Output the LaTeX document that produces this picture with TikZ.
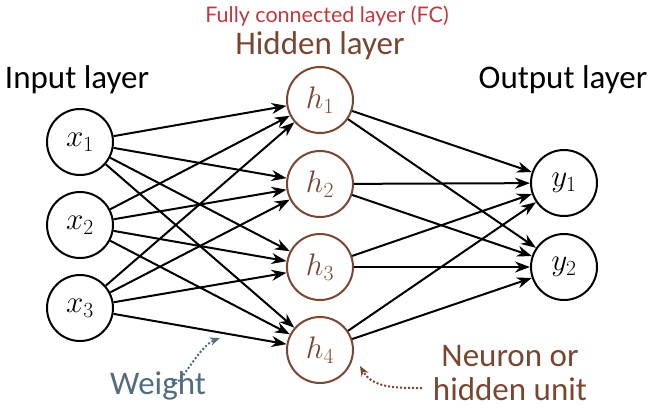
\documentclass[tikz,border=0pt]{standalone}
\usepackage{fontspec}
\setsansfont{Carlito}
\newfontfamily\fcfont{Lato}
\usetikzlibrary{arrows.meta}
\definecolor{brn}{HTML}{7A4632}
\definecolor{fcred}{HTML}{C0393F}
\definecolor{slate}{HTML}{526B7E}
\newcommand\nvar[1]{\scalebox{1.25}{$#1$}}
\begin{document}
\begin{tikzpicture}[x=1pt,y=-1pt,
  neuron/.style={circle,draw,line width=2pt,minimum size=66pt,inner sep=0pt,font=\fontsize{24}{24}\selectfont},
  hid/.style={neuron,draw=brn,text=brn},
  lbl/.style={font=\sffamily\fontsize{33}{36}\selectfont},
  conn/.style={-{Stealth[length=15pt,width=11pt]},line width=2pt},
  pointer/.style={-{Stealth[length=10pt,width=8pt]},line width=2pt,dotted}]
\useasboundingbox (0,0) rectangle (651,408);
\node[neuron] (x1) at (80,142) {\nvar{x_1}};
\node[neuron] (x2) at (80,225) {\nvar{x_2}};
\node[neuron] (x3) at (80,308) {\nvar{x_3}};
\node[hid] (h1) at (320,100) {\nvar{h_1}};
\node[hid] (h2) at (320,184) {\nvar{h_2}};
\node[hid] (h3) at (320,267) {\nvar{h_3}};
\node[hid] (h4) at (320,350) {\nvar{h_4}};
\node[neuron] (y1) at (564,183) {\nvar{y_1}};
\node[neuron] (y2) at (564,267) {\nvar{y_2}};
\foreach \i in {1,2,3}{\foreach \j in {1,2,3,4}{\draw[conn] (x\i) -- (h\j);}}
\foreach \j in {1,2,3,4}{\foreach \k in {1,2}{\draw[conn] (h\j) -- (y\k);}}
\node[font=\fcfont\fontsize{21.5}{24}\selectfont,text=fcred] (fc) at (327,16) {Fully connected layer (FC)};
\node[lbl,text=brn] (hl) at (320,46) {Hidden layer};
\node[lbl] (il) at (77,80) {Input layer};
\node[lbl] (ol) at (563,80) {Output layer};
\node[lbl,text=slate] (w) at (158,386) {Weight};
\node[lbl,text=brn,align=center,font=\sffamily\fontsize{33}{34}\selectfont] (nh) at (510,373) {Neuron or\\hidden unit};
\coordinate (wa) at (172,378);
\coordinate (wb) at (220,338);
\draw[pointer,draw=slate] (wa) to[out=-90,in=200] (wb);
\coordinate (na) at (422,388);
\coordinate (nb) at (360,366);
\draw[pointer,draw=brn] (na) to[out=180,in=-60] (nb);
\end{tikzpicture}
\end{document}
